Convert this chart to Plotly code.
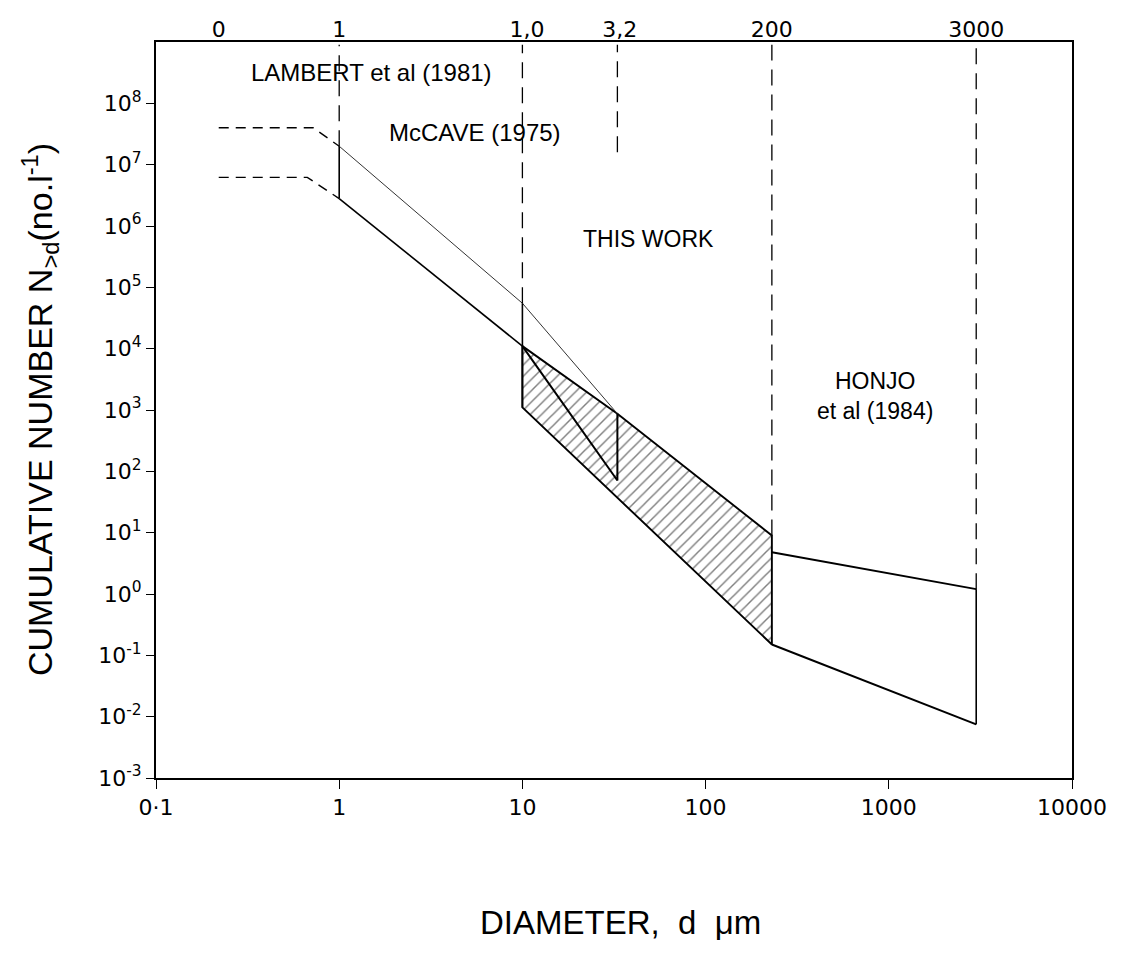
import numpy as np
import plotly.graph_objects as go

# ---- data ----
# dashed extrapolations (left)
dash_up_x = [0.22, 0.72, 1.0]
dash_up_y = [4.0e7, 4.0e7, 2.0e7]
dash_lo_x = [0.22, 0.67, 1.0]
dash_lo_y = [6.2e6, 6.2e6, 2.8e6]

# upper bound line (Lambert / McCave)
upper_x = [1.0, 10.0, 33.0]
upper_y = [2.0e7, 5.5e4, 870.0]
# lower bound line
lower_x = [1.0, 10.0]
lower_y = [2.8e6, 1.1e4]

# V-shaped line inside hatched region
v_x = [10.0, 33.0, 33.0]
v_y = [1.1e4, 71.0, 870.0]

# "This work" hatched band
tw_x = [10.0, 33.0, 230.0, 230.0, 10.0, 10.0]
tw_y = [1.1e4, 870.0, 9.0, 0.15, 1.1e3, 1.1e4]

# Honjo et al band
honjo_up_x = [230.0, 3000.0]
honjo_up_y = [4.8, 1.2]
honjo_lo_x = [230.0, 3000.0]
honjo_lo_y = [0.15, 0.0075]

# solid vertical segments (x, ymin, ymax)
vseg_x = [1.0, 10.0, 3000.0]
vseg_lo = [2.8e6, 1.1e3, 0.0075]
vseg_hi = [2.0e7, 5.5e4, 1.2]

# dashed boundary verticals (x, ymin, ymax)
bound_x = [1.0, 10.0, 33.0, 230.0, 3000.0]
bound_lo = [2.0e7, 5.5e4, 1.6e7, 9.0, 1.2]
bound_hi = [9e8, 9e8, 9e8, 9e8, 9e8]

# axis ticks
xtick_vals = [0.1, 1, 10, 100, 1000, 10000]
xtick_text = ["0·1", "1", "10", "100", "1000", "10000"]
ytick_exps = list(range(-3, 9))
top_vals = [0.22, 1.0, 10.6, 34.0, 230.0, 3000.0]
top_text = ["0", "1", "1,0", "3,2", "200", "3000"]

FONT = "Liberation Sans"
TICKFONT = "DejaVu Sans"

fig = go.Figure()

def line(x, y, width=1.6, dash=None, color="black"):
    fig.add_trace(go.Scatter(x=x, y=y, mode="lines", showlegend=False, hoverinfo="skip",
                             line=dict(color=color, width=width, dash=dash)))

# hatched area
fig.add_trace(go.Scatter(x=tw_x, y=tw_y, mode="lines", fill="toself", showlegend=False,
                         hoverinfo="skip", fillcolor="rgba(0,0,0,0)",
                         fillpattern=dict(shape="/", size=8, solidity=0.18, fgcolor="black",
                                          bgcolor="white"),
                         line=dict(color="black", width=1.9)))

line(dash_up_x, dash_up_y, 1.4, "10px,7px")
line(dash_lo_x, dash_lo_y, 1.4, "10px,7px")
line(upper_x, upper_y, 1.0, None, "#333333")
line(lower_x, lower_y, 1.6)
line(v_x, v_y, 2.0)
line(honjo_up_x, honjo_up_y, 2.0)
line(honjo_lo_x, honjo_lo_y, 2.0)
for xv, lo, hi in zip(vseg_x, vseg_lo, vseg_hi):
    line([xv, xv], [lo, hi], 1.6)
for xv, lo, hi in zip(bound_x, bound_lo, bound_hi):
    line([xv, xv], [lo, hi], 1.3, "16px,9px")

# dummy trace on top axis
fig.add_trace(go.Scatter(x=[1], y=[1], xaxis="x2", mode="markers", showlegend=False,
                         marker=dict(opacity=0), hoverinfo="skip"))

fig.update_layout(
    width=1131, height=967,
    margin=dict(l=156, r=59, t=42, b=189),
    plot_bgcolor="white", paper_bgcolor="white",
    xaxis=dict(type="log", range=[-1, 4], showgrid=False, zeroline=False,
               showline=True, mirror=True, linecolor="black", linewidth=2,
               ticks="outside", ticklen=9, tickwidth=1.2, tickcolor="black",
               tickvals=xtick_vals, ticktext=xtick_text,
               tickfont=dict(family=TICKFONT, size=22, color="black")),
    xaxis2=dict(type="log", range=[-1, 4], overlaying="x", side="top", showgrid=False,
                zeroline=False, showline=False, ticks="", tickvals=top_vals, ticktext=top_text,
                tickfont=dict(family=TICKFONT, size=22, color="black")),
    yaxis=dict(type="log", range=[-3, 9], showgrid=False, zeroline=False,
               showline=True, mirror=True, linecolor="black", linewidth=2,
               ticks="outside", ticklen=8, tickwidth=1.2, tickcolor="black",
               tickvals=[10.0 ** e for e in ytick_exps],
               ticktext=["10<sup>%d</sup>" % e for e in ytick_exps],
               tickfont=dict(family=TICKFONT, size=22, color="black")),
)

def ann(text, x, y, size=24, **kw):
    fig.add_annotation(text=text, x=np.log10(x), y=np.log10(y), xref="x", yref="y",
                       showarrow=False, font=dict(family=FONT, size=size, color="black"), **kw)

ann("LAMBERT et al (1981)", 1.51, 3.2e8, 24)
ann("McCAVE (1975)", 5.5, 3.3e7, 24)
ann("THIS WORK", 48.5, 6.2e5, 23)
ann("HONJO<br>et al (1984)", 841, 1.7e3, 23)

# convert pixel positions to paper coordinates of plot area
L, R, T, B = 156, 1131 - 59, 42, 967 - 189
def px2paper(px, py):
    return (px - L) / (R - L), (B - py) / (B - T)

xa, ya = px2paper(40, 410)
fig.add_annotation(text="CUMULATIVE NUMBER N<sub>&gt;d</sub>(no.l<sup>-1</sup>)",
                   x=xa, y=ya, xref="paper", yref="paper",
                   textangle=-90, showarrow=False, xanchor="center", yanchor="middle",
                   font=dict(family=FONT, size=34, color="black"))
xb, yb = px2paper(620, 922)
fig.add_annotation(text="DIAMETER,  d  μm", x=xb, y=yb, xref="paper", yref="paper",
                   showarrow=False, xanchor="center", yanchor="middle",
                   font=dict(family=FONT, size=33, color="black"))

fig.write_html("out.html")
